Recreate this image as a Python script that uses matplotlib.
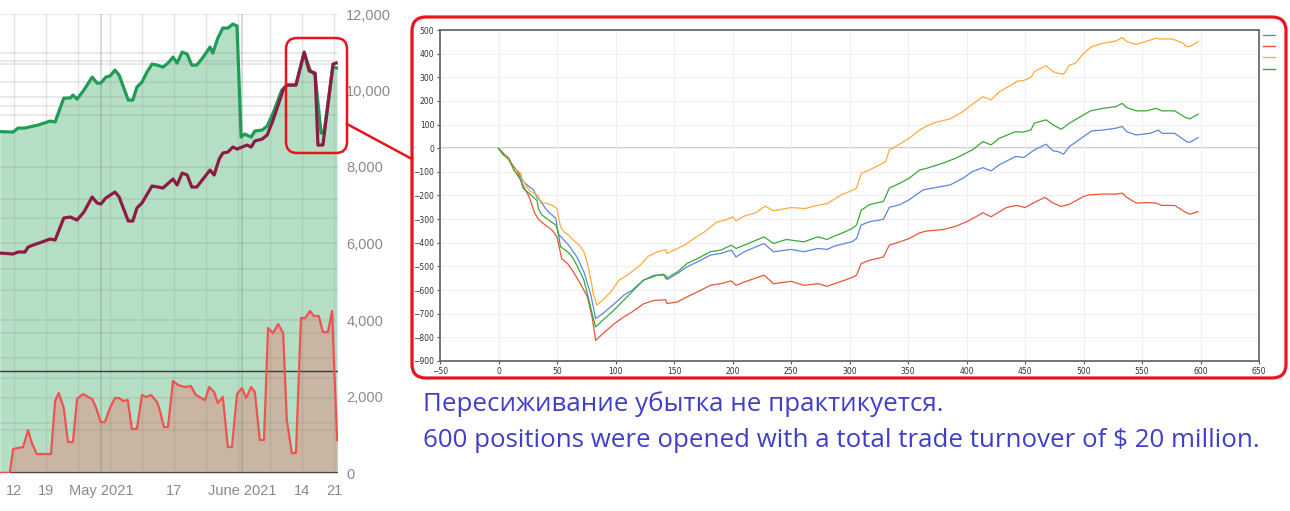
import matplotlib
matplotlib.use("Agg")
import matplotlib.pyplot as plt
from matplotlib.patches import FancyBboxPatch
from matplotlib.lines import Line2D
from matplotlib.transforms import IdentityTransform

# ---------------- Left chart data (x = days from 12 Apr 2021) ----------------
green_x = [-3.1, -0.2, 0.9, 2.4, 4.2, 5.3, 7.9, 9.0, 10.9, 12.3, 12.9, 13.8, 15.3, 17.1, 18.2, 19.0,
           20.1, 21.0, 22.1, 23.0, 25.0, 26.0, 26.9, 28.0, 29.1, 30.2, 31.3, 32.6, 33.7, 34.8, 35.7,
           36.8, 37.9, 38.9, 40.0, 41.4, 42.9, 43.5, 44.6, 45.7, 46.8, 47.9, 48.8, 49.7, 50.5, 51.9,
           52.7, 54.3, 55.4, 56.7, 58.6, 59.7, 61.7, 63.5, 64.8, 65.9, 67.2, 67.8, 69.8, 70.7]
green_y = [8925, 8914, 9018, 9018, 9070, 9097, 9201, 9175, 9802, 9802, 9880, 9776, 10011, 10351, 10194, 10194,
           10351, 10377, 10534, 10403, 9750, 9750, 10089, 10220, 10482, 10691, 10665, 10613, 10717, 10874, 10717,
           11005, 10952, 10665, 10665, 10874, 11136, 10979, 11371, 11632, 11632, 11737, 11685, 8783, 8862, 8783,
           8940, 8966, 9070, 9410, 10011, 10142, 10142, 10979, 10534, 10403, 8888, 8888, 10613, 10587]

maroon_x = [-3.1, -0.2, 0.9, 2.4, 3.1, 4.2, 5.5, 7.9, 9.0, 10.9, 12.3, 13.8, 15.3, 17.1, 18.2, 19.0,
            20.1, 22.1, 23.0, 25.0, 26.0, 26.9, 28.0, 30.2, 31.5, 32.6, 34.8, 35.7, 36.8, 37.9, 38.9,
            40.0, 42.9, 43.8, 44.9, 45.7, 46.8, 47.9, 48.8, 51.0, 51.9, 52.7, 54.3, 55.4, 56.7, 58.9,
            59.7, 61.7, 63.5, 64.6, 65.9, 66.5, 67.6, 69.8, 70.5]
maroon_y = [5751, 5725, 5777, 5777, 5908, 5960, 6012, 6117, 6091, 6666, 6692, 6614, 6823, 7215, 7058, 7032,
            7189, 7346, 7215, 6588, 6588, 6927, 7058, 7502, 7476, 7450, 7685, 7528, 7842, 7790, 7476,
            7476, 7920, 7790, 8208, 8365, 8391, 8522, 8469, 8574, 8522, 8679, 8731, 8835, 9227, 10011,
            10142, 10142, 11005, 10508, 10456, 8574, 8574, 10691, 10717]

turnover_x = [-3.1, -0.9, -0.2, 2.0, 3.1, 3.9, 5.0, 8.1, 9.0, 9.8, 10.9, 11.8, 12.9, 13.8, 15.1, 17.1,
              17.9, 19.0, 19.9, 21.0, 22.1, 23.0, 23.9, 24.9, 25.8, 26.9, 28.0, 28.9, 30.0, 31.3, 31.9,
              32.8, 33.7, 34.8, 35.9, 37.4, 38.7, 39.8, 41.8, 42.7, 43.8, 44.6, 45.7, 46.8, 47.7, 48.8,
              49.9, 50.8, 51.9, 52.7, 53.8, 54.7, 55.6, 56.7, 57.8, 58.9, 59.7, 60.8, 61.7, 62.8, 63.7,
              64.8, 65.6, 66.7, 67.6, 68.7, 69.6, 70.7]
turnover_y = [0, 0, 627, 680, 1124, 784, 497, 497, 1882, 2091, 1699, 810, 810, 1934, 2065, 1934,
              1725, 1333, 1333, 1699, 1960, 1960, 1882, 1908, 1150, 1150, 2039, 1987, 2039, 1856, 1647,
              1202, 1202, 2405, 2300, 2248, 2274, 2039, 1908, 2248, 2117, 1830, 1987, 680, 680, 2065,
              2222, 1960, 2248, 2117, 862, 862, 3790, 3660, 3895, 3660, 1385, 523, 523, 4052, 4052,
              4235, 4104, 4104, 3686, 3686, 4235, 862]

left_yticks = [0, 2000, 4000, 6000, 8000, 10000, 12000]
left_ytick_labels = ["0", "2,000", "4,000", "6,000", "8,000", "10,000", "12,000"]
left_xticks = [0, 7, 19, 35, 50, 63, 70]
left_xtick_labels = ["12", "19", "May 2021", "17", "June 2021", "14", "21"]
left_hgrid = [12000, 10980, 10770, 10690, 10220, 9830, 9600, 9360, 8000, 7160, 6670, 6010,
              5330, 4780, 4000, 3660, 3010, 2480, 1960, 1310, 1120]
left_vgrid = [0, 7, 14, 21, 28, 35, 42, 49, 56, 63, 70]
left_month_lines = [19, 50]
left_ref_line = 2670

# ---------------- Right chart data (x = position number, y = result) ----------------
blue_x = [0, 7, 11, 17, 21, 26, 30, 33, 36, 40, 44, 49, 51, 56, 60, 67, 73, 79, 83, 89, 99, 107, 114,
          124, 133, 143, 144, 153, 161, 170, 181, 190, 199, 203, 210, 227, 235, 250, 261, 273, 281, 287,
          296, 302, 306, 310, 317, 329, 334, 343, 351, 363, 374, 386, 397, 405, 414, 421, 428, 442, 449,
          456, 458, 468, 474, 478, 483, 488, 500, 507, 517, 528, 533, 537, 545, 557, 564, 567, 578, 588,
          591, 598]
blue_y = [0, -35, -70, -99, -141, -162, -176, -211, -222, -254, -275, -297, -362, -389, -410, -460, -523,
          -622, -721, -700, -658, -622, -601, -558, -537, -537, -556, -530, -502, -481, -452, -445, -431,
          -460, -438, -403, -438, -428, -438, -424, -428, -414, -403, -396, -382, -325, -311, -301, -250,
          -239, -218, -176, -166, -155, -127, -99, -82, -96, -70, -35, -39, -14, -7, 17, -11, -14, -25, 7,
          49, 73, 77, 85, 92, 70, 56, 63, 77, 63, 63, 28, 25, 45]

red_x = [0, 6, 10, 16, 20, 23, 26, 29, 31, 34, 39, 46, 50, 54, 59, 64, 70, 76, 80, 83, 89, 99, 107, 114,
         124, 133, 143, 144, 153, 161, 170, 181, 190, 199, 203, 210, 227, 235, 250, 261, 273, 281, 287,
         296, 302, 306, 310, 317, 329, 334, 343, 351, 360, 366, 380, 391, 400, 408, 414, 421, 428, 434,
         443, 450, 457, 467, 474, 481, 488, 500, 505, 517, 528, 533, 537, 545, 554, 562, 567, 578, 587,
         591, 598]
red_y = [0, -35, -56, -99, -148, -176, -204, -246, -275, -300, -321, -347, -375, -467, -488, -523, -573,
         -629, -714, -813, -785, -742, -714, -693, -658, -644, -641, -657, -650, -629, -608, -580, -573,
         -561, -580, -566, -537, -573, -563, -580, -573, -584, -573, -558, -547, -537, -488, -474, -460,
         -410, -396, -382, -358, -350, -344, -330, -311, -290, -273, -290, -269, -251, -242, -251, -232,
         -208, -232, -246, -237, -204, -197, -194, -194, -190, -208, -232, -230, -232, -242, -242, -270,
         -279, -268]

orange_x = [0, 4, 7, 10, 13, 19, 20, 23, 26, 30, 34, 36, 41, 46, 50, 51, 53, 56, 60, 64, 69, 73, 76, 79,
            81, 84, 89, 96, 103, 110, 121, 128, 136, 143, 144, 150, 159, 167, 176, 187, 194, 200, 203,
            210, 220, 228, 235, 250, 262, 273, 281, 293, 300, 306, 310, 317, 326, 331, 334, 337, 351,
            360, 366, 374, 386, 397, 405, 414, 421, 428, 436, 444, 448, 455, 458, 468, 474, 478, 483,
            488, 493, 500, 507, 517, 528, 533, 537, 545, 551, 562, 565, 576, 585, 588, 591, 598]
orange_y = [0, -28, -31, -63, -85, -106, -127, -155, -176, -190, -200, -232, -232, -242, -255, -283, -332,
            -354, -368, -389, -410, -438, -488, -558, -615, -664, -643, -608, -558, -537, -495, -457, -438,
            -429, -445, -431, -410, -382, -354, -311, -304, -290, -307, -287, -273, -245, -265, -251, -255,
            -241, -234, -197, -183, -169, -106, -92, -70, -56, -7, 0, 42, 77, 94, 110, 124, 155, 186, 218,
            204, 239, 261, 285, 285, 299, 324, 349, 324, 317, 313, 352, 359, 401, 430, 444, 454, 468, 451,
            439, 448, 465, 462, 462, 444, 430, 430, 451]

green2_x = [0, 4, 9, 13, 19, 21, 26, 33, 34, 37, 41, 49, 51, 53, 59, 63, 67, 73, 77, 80, 83, 89, 97, 107,
            114, 124, 136, 141, 143, 153, 161, 170, 181, 190, 199, 203, 210, 227, 235, 246, 261, 273, 281,
            287, 296, 302, 306, 310, 317, 329, 334, 343, 351, 360, 366, 380, 391, 405, 414, 421, 428, 442,
            448, 455, 458, 468, 474, 481, 488, 500, 506, 517, 528, 533, 537, 545, 554, 562, 567, 578, 587,
            591, 598]
green2_y = [0, -28, -42, -92, -134, -169, -190, -222, -254, -282, -297, -325, -354, -417, -438, -460, -495,
            -558, -636, -700, -756, -728, -693, -643, -608, -558, -537, -533, -551, -523, -488, -467, -438,
            -431, -410, -424, -410, -375, -403, -386, -396, -375, -386, -372, -354, -340, -325, -262, -239,
            -225, -169, -148, -127, -92, -85, -63, -42, -7, 28, 14, 42, 70, 68, 77, 106, 120, 99, 80, 106,
            141, 158, 169, 176, 190, 172, 158, 158, 169, 158, 158, 130, 124, 144]

series_x = [blue_x, red_x, orange_x, green2_x]
series_y = [blue_y, red_y, orange_y, green2_y]
series_colors = ["#5b87df", "#e8553c", "#ffab3d", "#3aa83c"]

right_xticks = list(range(-50, 651, 50))
right_yticks = list(range(-900, 501, 100))

caption_lines = ["Пересиживание убытка не практикуется.",
                 "600 positions were opened with a total trade turnover of $ 20 million."]

# ---------------- Figure ----------------
W, H = 1290, 511
fig = plt.figure(figsize=(W / 100, H / 100), dpi=100)
fig.patch.set_facecolor("white")

# ---- Left chart ----
axL = fig.add_axes([0, 1 - 473 / H, 338 / W, (473 - 14) / H])
axL.set_xlim(-3.06, 70.9)
axL.set_ylim(0, 12000)
for s in axL.spines.values():
    s.set_visible(False)
axL.set_facecolor("none")

axL.fill_between(green_x, 0, green_y, color="#b5dfc5", lw=0, zorder=1)
axL.fill_between(turnover_x, 0, turnover_y, color="#c8b5a2", lw=0, zorder=1.5)
for v in left_hgrid:
    axL.axhline(v, color="#8c8c8c", alpha=0.24, lw=1.1, zorder=2)
for d in left_vgrid:
    axL.axvline(d, color="#8c8c8c", alpha=0.22, lw=1.0, zorder=2)
for d in left_month_lines:
    axL.axvline(d, color="#6f8a78", alpha=0.35, lw=1.2, zorder=2)
axL.axhline(left_ref_line, color="#3a3a3a", lw=1.0, zorder=3)
axL.axhline(0, color="#4a4a4a", lw=1.6, zorder=3)

axL.plot(turnover_x, turnover_y, color="#f05252", lw=1.6, zorder=4, solid_joinstyle="round")
axL.plot(green_x, green_y, color="#1f9d55", lw=2.3, zorder=5, solid_joinstyle="round")
axL.plot(maroon_x, maroon_y, color="#8c1c46", lw=2.3, zorder=6, solid_joinstyle="round")

axL.yaxis.set_ticks_position("right")
axL.set_yticks(left_yticks)
axL.set_yticklabels(left_ytick_labels)
axL.set_xticks(left_xticks)
axL.set_xticklabels(left_xtick_labels)
axL.tick_params(axis="y", length=0, pad=6, labelsize=10.5, labelcolor="#8a8a8a")
axL.tick_params(axis="x", length=0, pad=8, labelsize=10.5, labelcolor="#8a8a8a")
for lab in axL.get_xticklabels() + axL.get_yticklabels():
    lab.set_fontfamily("Liberation Sans")

# ---- Right chart ----
axR = fig.add_axes([440 / W, 1 - 361 / H, 819 / W, 331 / H])
axR.set_xlim(-50, 650)
axR.set_ylim(-900, 500)
axR.set_xticks(right_xticks)
axR.set_yticks(right_yticks)
axR.grid(True, color="#f0f0f0", lw=0.8, zorder=0)
axR.axhline(0, color="#c8c8c8", lw=1.3, zorder=1)
axR.axvline(0, color="#bdbdbd", lw=0.8, zorder=1)
for s in axR.spines.values():
    s.set_color("#6a6a6a")
    s.set_linewidth(1.3)
axR.tick_params(axis="both", length=2.5, width=0.8, color="#555555", labelsize=5.5,
                labelcolor="#333333", pad=1.5)
for xs, ys, c in zip(series_x, series_y, series_colors):
    axR.plot(xs, ys, color=c, lw=0.9, zorder=3)

# legend swatches (no labels) to the right of the plot
ident = IdentityTransform()
for i, c in enumerate(series_colors):
    yy = H - (35 + i * 11.2)
    fig.add_artist(Line2D([1263, 1275], [yy, yy], color=c, lw=1.0, transform=ident))

# ---- Red highlight boxes and connector ----
fig.add_artist(FancyBboxPatch((412, H - 378), 874, 361,
                              boxstyle="round,pad=0,rounding_size=14",
                              transform=ident, fill=False, ec="#e8141e", lw=2.3, zorder=10))
fig.add_artist(FancyBboxPatch((286, H - 153), 61, 115,
                              boxstyle="round,pad=0,rounding_size=11",
                              transform=ident, fill=False, ec="#e8141e", lw=1.8, zorder=10))
fig.add_artist(Line2D([347, 412], [H - 124, H - 159], color="#e8141e", lw=1.8,
                      transform=ident, zorder=10))

# ---- Caption ----
t1 = fig.text(423, H - 411, caption_lines[0], transform=ident, fontsize=16,
              color="#3f3fc8", family="Open Sans", va="baseline", ha="left")
t2 = fig.text(423, H - 447, caption_lines[1], transform=ident, fontsize=16,
              color="#3f3fc8", family="Open Sans", va="baseline", ha="left")
r = fig.canvas.get_renderer()
w2 = t2.get_window_extent(renderer=r).width
scale = 835 / w2
t1.set_fontsize(16 * scale)
t2.set_fontsize(16 * scale)

fig.savefig("out.png", dpi=100, facecolor="white")
